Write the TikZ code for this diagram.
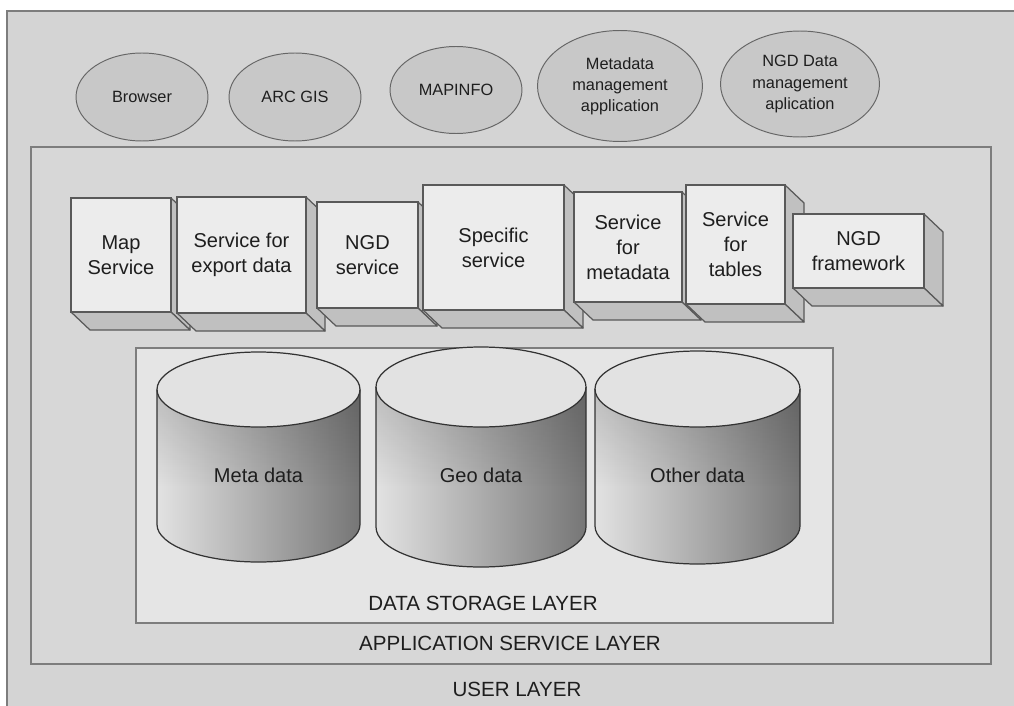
\documentclass[tikz,border=0pt]{standalone}
\usepackage{fontspec}
\setmainfont{Liberation Sans}
\usetikzlibrary{shapes.geometric, fadings}

\definecolor{userbg}{RGB}{212,212,212}
\definecolor{appbg}{RGB}{215,215,215}
\definecolor{storebg}{RGB}{229,229,229}
\definecolor{framecol}{RGB}{125,125,125}
\definecolor{appfill}{RGB}{200,200,200}
\definecolor{frontfill}{RGB}{236,236,236}
\definecolor{sidefill}{RGB}{192,192,192}
\definecolor{cyltop}{RGB}{226,226,226}
\definecolor{cylleft}{RGB}{226,226,226}
\definecolor{cylright}{RGB}{118,118,118}
\definecolor{inkcol}{RGB}{30,30,30}

\tikzfading[name=rimfade, top color=transparent!84, bottom color=transparent!100]

\tikzset{
  every node/.style={text=inkcol, align=center},
  app/.style={ellipse, draw=black!60, fill=appfill, inner sep=0pt, line width=0.55pt,
    font=\fontsize{9.3}{12}\selectfont},
  boxfront/.style={rectangle, draw=black!65, fill=frontfill, line width=0.7pt,
    inner sep=0pt, outer sep=0pt, font=\fontsize{11.4}{14.2}\selectfont},
  boxside/.style={draw=black!65, fill=sidefill, line width=0.7pt, line join=round},
  layerlabel/.style={font=\fontsize{11.7}{14}\selectfont},
  dblabel/.style={font=\fontsize{11.4}{14}\selectfont}
}

% service block: name, x1, y1, x2, y2, text
\newcommand{\svcbox}[6]{%
  \filldraw[boxside] (#4,#3) -- (#4+19,#3+18) -- (#4+19,#5+18) -- (#4,#5) -- cycle;
  \filldraw[boxside] (#2,#5) -- (#4,#5) -- (#4+19,#5+18) -- (#2+19,#5+18) -- cycle;
  \node[boxfront, minimum width={(#4-#2)*0.02cm}, minimum height={(#5-#3)*0.02cm}]
    (#1) at ({(#2+#4)/2},{(#3+#5)/2}) {#6};}

% database cylinder: name, cx, rx, ry, top y, bottom y, text
\newcommand{\dbcyl}[7]{%
  \shade[left color=cylleft, right color=cylright]
    (#2-#3,#5) -- (#2-#3,#6) arc[start angle=180, end angle=0, x radius=#3, y radius=#4]
    -- (#2+#3,#5) -- cycle;
  \fill[black, path fading=rimfade]
    (#2-#3,#5) arc[start angle=180, end angle=0, x radius=#3, y radius=#4]
    -- (#2+#3,#5+#4+60) -- (#2-#3,#5+#4+60) -- cycle;
  \filldraw[fill=cyltop, draw=black!80, line width=0.7pt] (#2,#5) ellipse[x radius=#3, y radius=#4];
  \draw[black!80, line width=0.7pt]
    (#2-#3,#5) -- (#2-#3,#6) arc[start angle=180, end angle=0, x radius=#3, y radius=#4]
    -- (#2+#3,#5);
  \node[dblabel] (#1) at (#2,{(#5+#6)/2+18}) {#7};}

\begin{document}
\begin{tikzpicture}[x=0.02cm, y=-0.02cm]
\useasboundingbox (0,0) rectangle (1014,706);
\fill[white] (0,0) rectangle (1014,706);

% layers
\filldraw[fill=userbg, draw=framecol, line width=1.1pt] (7,11) rectangle (1030,725);
\filldraw[fill=appbg, draw=framecol, line width=0.9pt] (31,147) rectangle (991,664);
\filldraw[fill=storebg, draw=framecol, line width=0.7pt] (136,348) rectangle (833,623);

\node[layerlabel] (userlbl) at (517,689) {USER LAYER};
\node[layerlabel] (applbl) at (510,643) {APPLICATION SERVICE LAYER};
\node[layerlabel] (storelbl) at (483,603) {DATA STORAGE LAYER};

% user applications
\node[app, minimum width=2.64cm, minimum height=1.76cm] (browser) at (142,97) {Browser};
\node[app, minimum width=2.64cm, minimum height=1.76cm] (arcgis) at (295,97) {ARC GIS};
\node[app, minimum width=2.64cm, minimum height=1.74cm] (mapinfo) at (456,90) {MAPINFO};
\node[app, minimum width=3.3cm, minimum height=2.22cm] (metaapp) at (620,86)
  {Metadata\\management\\application};
\node[app, minimum width=3.18cm, minimum height=2.12cm] (ngdapp) at (800,84)
  {NGD Data\\management\\aplication};

% services
\svcbox{mapsvc}{71}{198}{171}{312}{Map\\Service}
\svcbox{exportsvc}{177}{197}{306}{313}{Service for\\export data}
\svcbox{ngdsvc}{317}{202}{418}{308}{NGD\\service}
\svcbox{specsvc}{423}{185}{564}{310}{Specific\\service}
\svcbox{metasvc}{574}{192}{682}{302}{Service\\for\\metadata}
\svcbox{tablesvc}{686}{185}{785}{304}{Service\\for\\tables}
\svcbox{framesvc}{793}{214}{924}{288}{NGD\\framework}

% storage
\dbcyl{metadb}{258.5}{101.5}{37.5}{389.5}{524.5}{Meta data}
\dbcyl{geodb}{481}{105}{40}{387}{527}{Geo data}
\dbcyl{otherdb}{697.5}{102.5}{38}{389}{526}{Other data}

\end{tikzpicture}
\end{document}
